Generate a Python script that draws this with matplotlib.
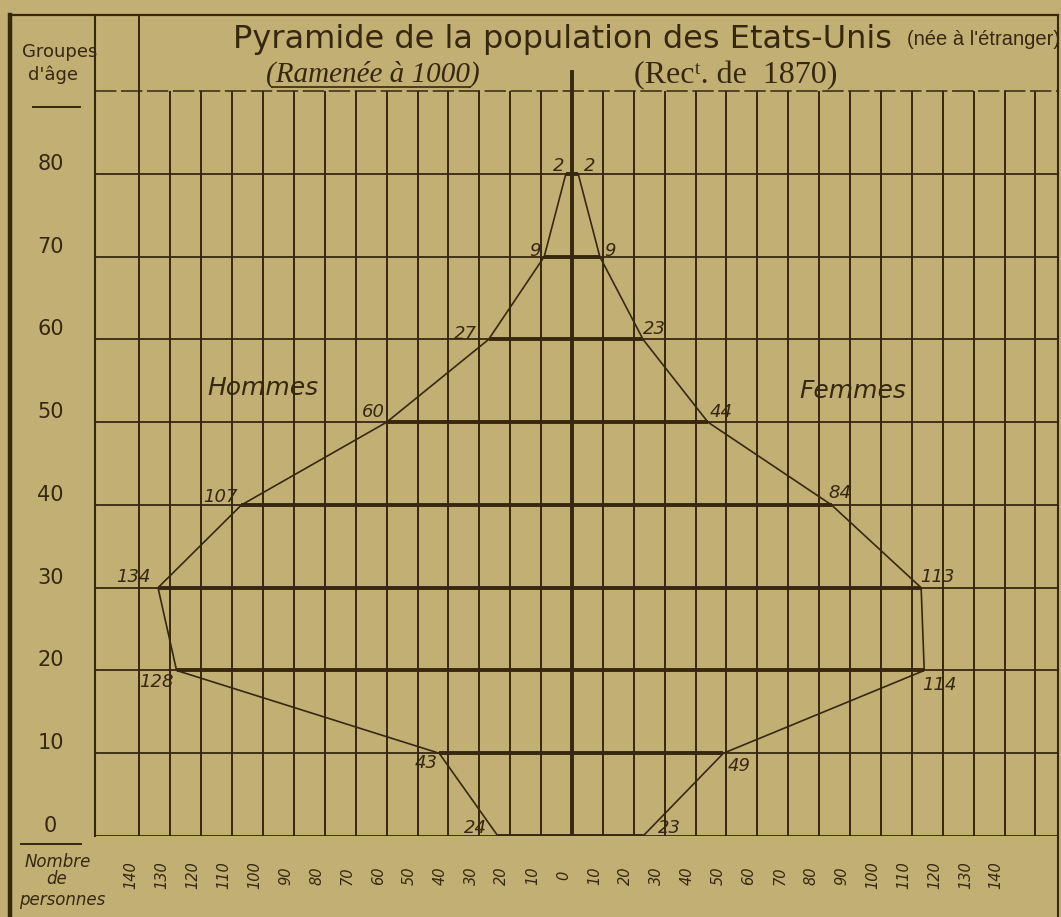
import matplotlib.pyplot as plt

# Pyramide des âges - population des Etats-Unis née à l'étranger, 1870
ages = [0, 10, 20, 30, 40, 50, 60, 70, 80]
hommes = [24, 43, 128, 134, 107, 60, 27, 9, 2]
femmes = [23, 49, 114, 113, 84, 44, 23, 9, 2]
age_labels = ['0', '10', '20', '30', '40', '50', '60', '70', '80']
x_ticks = [-140, -130, -120, -110, -100, -90, -80, -70, -60, -50, -40, -30, -20, -10,
           0, 10, 20, 30, 40, 50, 60, 70, 80, 90, 100, 110, 120, 130, 140]
x_tick_labels = [str(abs(v)) for v in x_ticks]
grid_x = list(range(-140, 160, 10))

# décalage des chiffres autour de chaque sommet (points)
off_h = [(-16.5, 5.8), (-9.4, -7.2), (-14.4, -8), (-18, 8), (-15, 5.8),
         (-9.4, 7.2), (-16.5, 3.6), (-6.5, 4.3), (-5, 6)]
off_f = [(18.7, 5.8), (11.5, -9.4), (10.8, -10.8), (12, 8), (5.8, 8.6),
         (9.4, 7.2), (8, 7.2), (7.2, 4.3), (8.6, 6)]

W, H = 1061, 917
paper = '#c2af74'
ink = '#38270f'
serif = ['Liberation Serif', 'DejaVu Serif']

fig = plt.figure(figsize=(W / 100, H / 100), dpi=100, facecolor=paper)

# cadre et colonne de gauche en coordonnées pixels
page = fig.add_axes([0, 0, 1, 1], zorder=0)
page.set_xlim(0, W)
page.set_ylim(H, 0)
page.axis('off')
page.plot([10, 1058], [15, 15], color=ink, lw=1.6)
page.plot([10, 10], [15, H], color=ink, lw=3.2)
page.plot([1058, 1058], [15, H], color=ink, lw=1.5)
page.plot([33, 80], [107, 107], color=ink, lw=1.4)
page.plot([21, 81], [844, 844], color=ink, lw=1.4)

page.text(60, 52, 'Groupes', ha='center', va='center', fontsize=13, color=ink)
page.text(53, 75, "d'âge", ha='center', va='center', fontsize=13, color=ink)
page.text(58, 862, 'Nombre', ha='center', va='center', fontsize=12, style='italic', color=ink)
page.text(57, 879, 'de', ha='center', va='center', fontsize=12, style='italic', color=ink)
page.text(62, 900, 'personnes', ha='center', va='center', fontsize=12, style='italic', color=ink)

# titres
page.text(233, 48, 'Pyramide de la population des Etats-Unis', ha='left', va='baseline',
          fontsize=23, color=ink)
page.text(1060, 45, "(née à l'étranger)", ha='right', va='baseline',
          family=['Liberation Sans', 'DejaVu Sans'], fontsize=14.5, color=ink)
page.text(266, 82, '(Ramenée à 1000)', ha='left', va='baseline',
          family=serif, style='italic', fontsize=21, color=ink)
page.plot([272, 470], [87, 87], color=ink, lw=1.2)
page.text(634, 83, '(Recᵗ. de  1870)', ha='left', va='baseline',
          family=serif, fontsize=23, color=ink)

# zone de la pyramide
ax = fig.add_axes([95 / W, 1 - 836 / H, (1058 - 95) / W, (836 - 15) / H], zorder=1)
ax.set_facecolor('none')
ax.set_xlim(-154.4, 157.3)
ax.set_ylim(0, 99.2)
for side in ['top', 'right', 'bottom']:
    ax.spines[side].set_visible(False)
ax.spines['left'].set_color(ink)
ax.spines['left'].set_linewidth(1.5)
ax.set_xticks([])
ax.set_yticks([])

x0, x1 = ax.get_xlim()
for gx in grid_x:
    if gx == 0:
        continue
    top = ax.get_ylim()[1] if gx == -140 else 90
    ax.vlines(gx, 0, top, color=ink, lw=1.4)
ax.vlines(0, 0, 92.5, color=ink, lw=2.8)
ax.hlines(ages, x0, x1, color=ink, lw=1.3)
ax.hlines(90, x0, x1, color=ink, lw=1.1, linestyles=(0, (14, 3)))

# barres épaisses entre hommes et femmes
ax.hlines(ages, [-h for h in hommes], femmes, color=ink, lw=2.8)

# contour de la pyramide
px = [-h for h in hommes] + femmes[::-1]
py = ages + ages[::-1]
ax.plot(px, py, color=ink, lw=1.2)

for a, h, f, oh, of in zip(ages, hommes, femmes, off_h, off_f):
    ax.annotate(str(h), (-h, a), xytext=oh, textcoords='offset points',
                ha='center', va='center', style='italic', fontsize=13, color=ink)
    ax.annotate(str(f), (f, a), xytext=of, textcoords='offset points',
                ha='center', va='center', style='italic', fontsize=13, color=ink)

# âges dans la colonne de gauche
for a, lab in zip(ages, age_labels):
    ax.annotate(lab, (0, a), xycoords=('axes fraction', 'data'), xytext=(-32, 0),
                textcoords='offset points', ha='center', va='bottom',
                fontsize=15, color=ink)

# effectifs sous l'axe
for v, lab in zip(x_ticks, x_tick_labels):
    ax.annotate(lab, (v, 0), xycoords=('data', 'axes fraction'), xytext=(-6, -28.5),
                textcoords='offset points', ha='center', va='center', rotation=90,
                style='italic', fontsize=10.5, color=ink, annotation_clip=False)

ax.text(-100, 54.1, 'Hommes', ha='center', va='center', style='italic', fontsize=18, color=ink)
ax.text(91, 53.8, 'Femmes', ha='center', va='center', style='italic', fontsize=18, color=ink)

fig.savefig('out.png', dpi=100, facecolor=paper)
